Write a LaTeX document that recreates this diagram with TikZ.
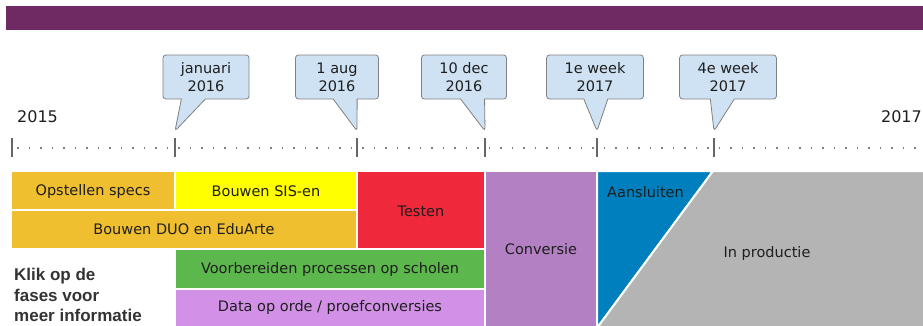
\documentclass[tikz,border=0pt]{standalone}
\usepackage{fontspec}
\setmainfont{DejaVu Sans}
\newfontfamily\klikfont{Liberation Sans}
\usetikzlibrary{shapes.callouts}

\definecolor{balk}{HTML}{6F2A64}
\definecolor{specs}{HTML}{F0BF2F}
\definecolor{sisen}{HTML}{FFFF00}
\definecolor{testen}{HTML}{F0283C}
\definecolor{proces}{HTML}{5CB84C}
\definecolor{dataorde}{HTML}{D291E6}
\definecolor{conversie}{HTML}{B380C4}
\definecolor{aansluit}{HTML}{007FBF}
\definecolor{productie}{HTML}{B4B4B4}
\definecolor{ballon}{HTML}{CFE2F3}
\definecolor{tekst}{HTML}{1E1E1E}

\begin{document}
\begin{tikzpicture}[x=1pt, y=-1pt,
  fase/.style={draw=white, line width=2pt},
  faselabel/.style={font=\fontsize{14.5}{17}\selectfont, text=tekst, inner sep=0pt},
  jaar/.style={font=\fontsize{16}{18}\selectfont, text=tekst, inner sep=0pt},
  mijlpaal/.style={rectangle callout, draw=gray, fill=ballon, line width=0.8pt,
    rounded corners=3pt, align=center, font=\fontsize{14.5}{18}\selectfont,
    text=tekst, minimum width=83pt, minimum height=44pt, inner xsep=18pt,
    callout pointer width=24pt},
  tick/.style={draw=gray!80!black, line width=2pt},
  stippel/.style={draw=gray, line width=1.6pt, dash pattern=on 1.6pt off 9.9pt, dash phase=-5pt}]
\useasboundingbox (0,0) rectangle (923,325);

% Top bar
\fill[balk] (6,6) rectangle (923,30);

% Timeline
\draw[stippel] (12,148) -- (923,148);
\foreach \n/\x in {0/12, 1/175, 2/357, 3/485, 4/597, 5/714} {
    \coordinate (t\n) at (\x,148);
    \coordinate (p\n) at (\x,131);
    \draw[tick] (\x,138) -- (\x,157);
}
\node[jaar, anchor=base west] (j2015) at (17,122) {2015};
\node[jaar, anchor=base east] (j2017) at (922,122) {2017};

% Milestones
\node[mijlpaal, callout absolute pointer={(p1)}] (jan) at (206,77) {januari\\2016};
\node[mijlpaal, callout absolute pointer={(p2)}] (aug) at (337,77) {1 aug\\2016};
\node[mijlpaal, callout absolute pointer={(p3)}] (dec) at (464,77) {10 dec\\2016};
\node[mijlpaal, callout absolute pointer={(p4)}] (wk1) at (595,77) {1e week\\2017};
\node[mijlpaal, callout absolute pointer={(p5)}] (wk4) at (728,77) {4e week\\2017};

% Phases
\draw[fase, fill=specs] (11,171) rectangle (175,210);
\draw[fase, fill=sisen] (175,171) rectangle (357,210);
\draw[fase, fill=specs] (11,210) rectangle (357,249);
\draw[fase, fill=testen] (357,171) rectangle (485,249);
\draw[fase, fill=proces] (175,249) rectangle (485,289);
\draw[fase, fill=dataorde] (175,289) rectangle (485,328);
\draw[fase, fill=conversie] (485,171) rectangle (597,328);
\draw[fase, fill=aansluit] (597,171) -- (713,171) -- (597,328) -- cycle;
\draw[fase, fill=productie] (713,171) -- (926,171) -- (926,328) -- (597,328) -- cycle;

\node[faselabel] (specs) at (93,191) {Opstellen specs};
\node[faselabel] (sis) at (266,191) {Bouwen SIS-en};
\node[faselabel] (duo) at (184,229) {Bouwen DUO en EduArte};
\node[faselabel] (test) at (421,211) {Testen};
\node[faselabel] (proc) at (330,269) {Voorbereiden processen op scholen};
\node[faselabel] (data) at (330,307) {Data op orde / proefconversies};
\node[faselabel] (conv) at (541,249) {Conversie};
\node[faselabel, anchor=west] (aans) at (607,192) {Aansluiten};
\node[faselabel] (prod) at (767,253) {In productie};

% Hint
\node[anchor=north west, align=left, inner sep=0pt, text=black!80,
  font=\klikfont\bfseries\fontsize{17}{20.5}\selectfont] (klik) at (14,268)
  {Klik op de\\fases voor\\meer informatie};

\end{tikzpicture}
\end{document}
